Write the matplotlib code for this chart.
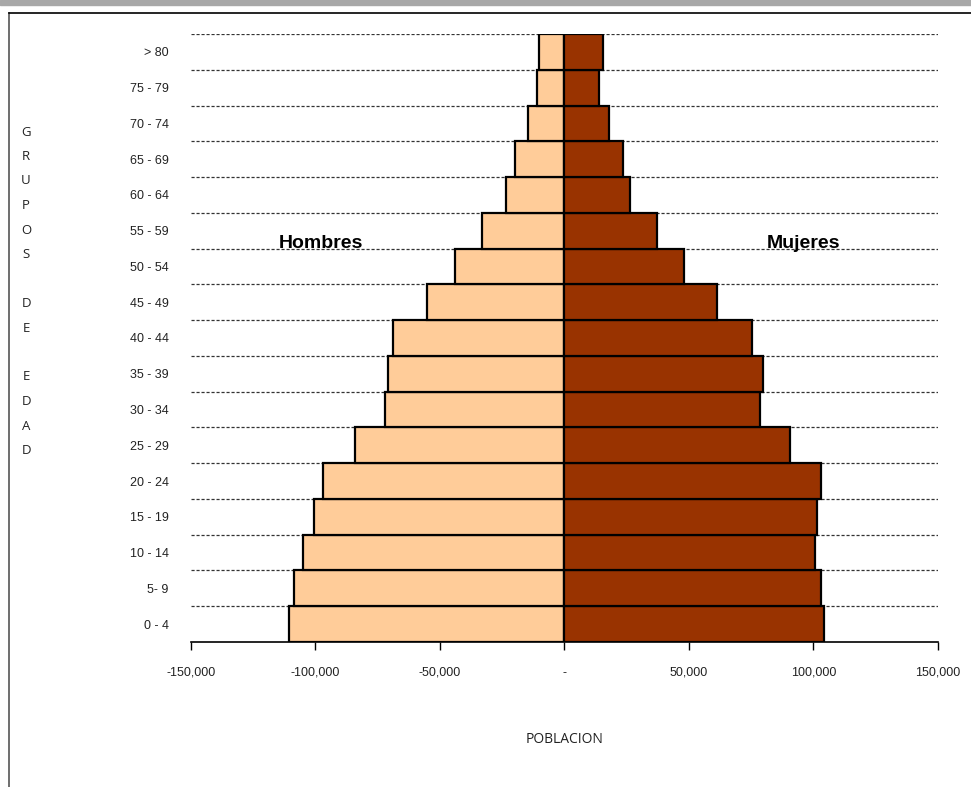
import matplotlib.pyplot as plt
from matplotlib.lines import Line2D
from matplotlib.patches import Rectangle
from matplotlib.ticker import FuncFormatter

grupos = ["0 - 4", "5- 9", "10 - 14", "15 - 19", "20 - 24", "25 - 29", "30 - 34",
          "35 - 39", "40 - 44", "45 - 49", "50 - 54", "55 - 59", "60 - 64",
          "65 - 69", "70 - 74", "75 - 79", "> 80"]
hombres = [110800, 108800, 105000, 100400, 96900, 84000, 71900, 70700, 68700,
           55400, 43800, 33000, 23300, 19700, 14500, 11200, 10400]
mujeres = [104400, 103200, 100800, 101600, 103200, 90400, 78700, 79900, 75500,
           61300, 47900, 37100, 26500, 23600, 17900, 13800, 15400]
xticks = [-150000, -100000, -50000, 0, 50000, 100000, 150000]

plt.rcParams['font.family'] = ['Liberation Sans', 'DejaVu Sans']

fig = plt.figure(figsize=(9.71, 7.87), dpi=100)
ax = fig.add_axes([0.1967, 0.1843, 0.7693, 0.7725])

y = range(len(grupos))
ax.barh(y, [-h for h in hombres], height=1.0, color="#FFCC99",
        edgecolor="black", linewidth=1.6, zorder=3)
ax.barh(y, mujeres, height=1.0, color="#993300",
        edgecolor="black", linewidth=1.6, zorder=3)

# lineas de division punteadas
for i in range(1, len(grupos) + 1):
    ax.axhline(i - 0.5, color="#333333", linestyle=(0, (2.5, 1.5)),
               linewidth=0.9, zorder=1)

ax.set_xlim(-150000, 150000)
ax.set_ylim(-0.5, len(grupos) - 0.5)
ax.set_yticks(list(y))
ax.set_yticklabels(grupos, fontsize=9, color="#222222")
ax.tick_params(axis="y", length=0, pad=16)

ax.set_xticks(xticks)
ax.xaxis.set_major_formatter(FuncFormatter(
    lambda v, p: "-" if v == 0 else "{:,.0f}".format(v)))
ax.tick_params(axis="x", direction="out", length=6, width=1, pad=12,
               labelsize=9, labelcolor="#222222")
for lab in ax.get_xticklabels():
    lab.set_family(['Liberation Sans Narrow', 'Liberation Sans'])

for s in ["top", "right", "left"]:
    ax.spines[s].set_visible(False)
ax.spines["bottom"].set_linewidth(1.2)

ax.set_xlabel("POBLACION", fontsize=10, labelpad=38,
              family=['Open Sans', 'DejaVu Sans'], color="#222222")

ax.text(-98000, 10.65, "Hombres", fontsize=14, fontweight="bold",
        ha="center", va="center", zorder=5)
ax.text(96000, 10.65, "Mujeres", fontsize=14, fontweight="bold",
        ha="center", va="center", zorder=5)

# etiqueta vertical letra por letra
letras = list("GRUPOS") + [""] + list("DE") + [""] + list("EDAD")
for k, c in enumerate(letras):
    fig.text(26 / 971, 1 - (132 + k * 24.5) / 787, c, fontsize=9.5,
             ha="center", va="center", family=['Open Sans', 'DejaVu Sans'],
             color="#222222")

# marco de la hoja
fig.patches.append(Rectangle((0, 1 - 5 / 787), 1, 5 / 787,
                             transform=fig.transFigure, color="#a8a8a8"))
fig.lines.append(Line2D([8.5 / 971, 8.5 / 971], [0, 1 - 13 / 787],
                        transform=fig.transFigure, color="#555555", lw=1.2))
fig.lines.append(Line2D([8.5 / 971, 1], [1 - 13 / 787, 1 - 13 / 787],
                        transform=fig.transFigure, color="black", lw=1.2))

fig.savefig("out.png", dpi=100)
